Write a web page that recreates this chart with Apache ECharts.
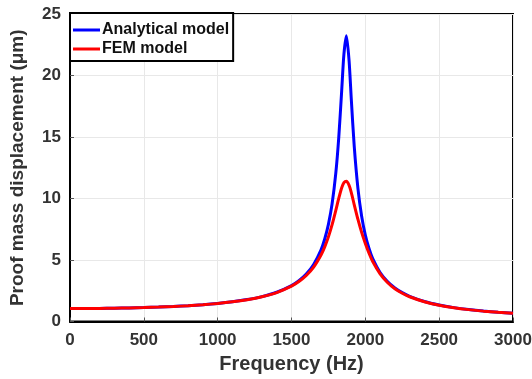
<!DOCTYPE html>
<html>
<head>
<meta charset="utf-8">
<script src="https://cdn.jsdelivr.net/npm/echarts@6/dist/echarts.min.js"></script>
<style>
html,body{margin:0;padding:0;background:#fff;}
#chart{width:532px;height:379px;}
</style>
</head>
<body>
<div id="chart"></div>
<script>
var frequency = [0,100,200,300,400,500,600,700,800,900,1000,1100,1200,1300,1400,1500,1550,1600,1650,1700,1725,1750,1775,1800,1820,1840,1855,1872,1890,1905,1925,1950,1975,2000,2025,2050,2100,2150,2200,2250,2300,2400,2500,2600,2700,2800,2900,3000];
var analytical = [1.05,1.053,1.062,1.078,1.100,1.131,1.170,1.221,1.285,1.366,1.469,1.604,1.782,2.024,2.376,2.918,3.316,3.857,4.633,5.831,6.708,7.896,9.574,12.06,14.95,18.79,21.74,23.23,21.19,18.06,14.21,10.80,8.556,7.025,5.931,5.115,3.987,3.248,2.729,2.344,2.049,1.625,1.336,1.128,0.970,0.847,0.749,0.669];
var fem = [1.05,1.053,1.062,1.078,1.100,1.131,1.170,1.220,1.283,1.364,1.466,1.598,1.774,2.013,2.354,2.873,3.245,3.740,4.423,5.407,6.067,6.879,7.870,9.032,10.01,10.87,11.30,11.41,11.07,10.48,9.488,8.30,7.25,6.35,5.55,4.88,3.88,3.17,2.66,2.30,2.012,1.605,1.324,1.120,0.965,0.843,0.746,0.667];
var xTicks = {min:0,max:3000,interval:500};
var yTicks = {min:0,max:25,interval:5};
var seriesNames = ['Analytical model','FEM model'];

function pairs(xs, ys){ return xs.map(function(x,i){ return [x, ys[i]]; }); }

var chart = echarts.init(document.getElementById('chart'), null, {renderer:'canvas'});
var FONT = 'Liberation Sans, Arial, sans-serif';
var labelStyle = {fontFamily:FONT, fontWeight:'bold', fontSize:17, color:'#333'};
chart.setOption({
  animation:false,
  backgroundColor:'#fff',
  grid:{left:70,right:19,top:14,bottom:57.5,show:true,borderColor:'#000',borderWidth:2,backgroundColor:'transparent',
        containLabel:false, outerBoundsMode:'none'},
  legend:{
    show:true, orient:'vertical', left:70, top:13,
    data:seriesNames,
    backgroundColor:'#fff', borderColor:'#000', borderWidth:2,
    padding:[9,4,4,3], itemGap:3, itemWidth:27, itemHeight:3,
    icon:'rect',
    textStyle:{fontFamily:FONT, fontWeight:'bold', fontSize:16, color:'#111', padding:[0,0,0,-3]}
  },
  xAxis:{
    type:'value', min:xTicks.min, max:xTicks.max, interval:xTicks.interval,
    name:'Frequency (Hz)', nameLocation:'middle', nameGap:33,
    nameTextStyle:{fontFamily:FONT, fontWeight:'bold', fontSize:20, color:'#333'},
    axisLine:{show:true,lineStyle:{color:'#000',width:2}},
    axisTick:{show:true,inside:true,length:4,lineStyle:{color:'#555'}},
    axisLabel:Object.assign({margin:10, formatter:function(v){return String(v);}}, labelStyle),
    splitLine:{show:true,lineStyle:{color:'#e8e8e8',width:1}}
  },
  yAxis:{
    type:'value', min:yTicks.min, max:yTicks.max, interval:yTicks.interval,
    name:'Proof mass displacement (\u03bcm)', nameLocation:'middle', nameGap:43,
    nameTextStyle:{fontFamily:FONT, fontWeight:'bold', fontSize:19, color:'#333'},
    axisLine:{show:true,lineStyle:{color:'#000',width:2}},
    axisTick:{show:true,inside:true,length:4,lineStyle:{color:'#555'}},
    axisLabel:Object.assign({margin:9}, labelStyle),
    splitLine:{show:true,lineStyle:{color:'#e8e8e8',width:1}}
  },
  series:[
    {name:seriesNames[0], type:'line', data:pairs(frequency, analytical), showSymbol:false, smooth:0.25,
     lineStyle:{color:'#0000ff',width:3}, itemStyle:{color:'#0000ff'}},
    {name:seriesNames[1], type:'line', data:pairs(frequency, fem), showSymbol:false, smooth:0.25,
     lineStyle:{color:'#ff0000',width:3}, itemStyle:{color:'#ff0000'}}
  ]
});
</script>
</body>
</html>
